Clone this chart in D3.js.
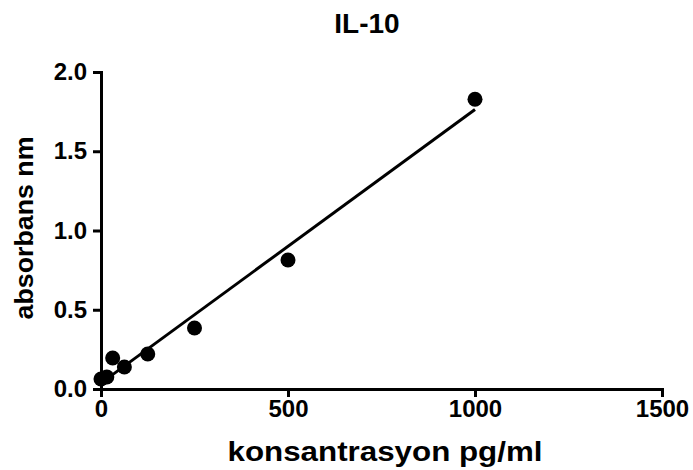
<!DOCTYPE html>
<html>
<head>
<meta charset="utf-8">
<script src="https://cdn.jsdelivr.net/npm/d3@7"></script>
<style>
  html, body { margin: 0; padding: 0; background: #fff; }
  svg { display: block; }
  text { font-family: "Liberation Sans", Arial, sans-serif; font-weight: bold; fill: #000; }
</style>
</head>
<body>
<svg id="chart" width="693" height="470"></svg>
<script>
// IL-10 standard curve: concentration (pg/ml) vs absorbance
const concentrations = [0, 15.6, 31.25, 62.5, 125, 250, 500, 1000];
const absorbances = [0.063, 0.076, 0.196, 0.139, 0.221, 0.385, 0.814, 1.828];
const xTicks = [0, 500, 1000, 1500];
const yTicks = [0.0, 0.5, 1.0, 1.5, 2.0];

const svg = d3.select("#chart");
const margin = { left: 101, right: 31, top: 72, bottom: 81 };
const W = 693, H = 470;

const x = d3.scaleLinear().domain([0, 1500]).range([margin.left, W - margin.right]);
const y = d3.scaleLinear().domain([0, 2.0]).range([H - margin.bottom, margin.top]);

// least-squares line through the standards
const n = concentrations.length;
const mx = d3.mean(concentrations), my = d3.mean(absorbances);
let sxy = 0, sxx = 0;
for (let i = 0; i < n; i++) {
  sxy += (concentrations[i] - mx) * (absorbances[i] - my);
  sxx += (concentrations[i] - mx) ** 2;
}
const slope = sxy / sxx, intercept = my - slope * mx;
const fitX = d3.extent(concentrations);

svg.append("line")
  .attr("x1", x(fitX[0])).attr("y1", y(intercept + slope * fitX[0]))
  .attr("x2", x(fitX[1])).attr("y2", y(intercept + slope * fitX[1]))
  .attr("stroke", "#000").attr("stroke-width", 3);

// axes
const xAxis = svg.append("g")
  .attr("transform", `translate(0,${y(0)})`)
  .call(d3.axisBottom(x).tickValues(xTicks).tickFormat(d3.format("d")).tickSizeOuter(0).tickSize(8).tickPadding(3));
const yAxis = svg.append("g")
  .attr("transform", `translate(${x(0)},0)`)
  .call(d3.axisLeft(y).tickValues(yTicks).tickFormat(d3.format(".1f")).tickSizeOuter(0).tickSize(8).tickPadding(6));

[xAxis, yAxis].forEach(g => {
  g.select(".domain").attr("stroke", "#000").attr("stroke-width", 3);
  g.selectAll(".tick line").attr("stroke", "#000").attr("stroke-width", 3);
  g.selectAll(".tick text").style("font-size", "24px").style("font-family", "'Liberation Sans', Arial, sans-serif").style("font-weight", "bold");
});

// data points
svg.append("g").selectAll("circle")
  .data(concentrations.map((c, i) => [c, absorbances[i]]))
  .join("circle")
  .attr("cx", d => x(d[0]))
  .attr("cy", d => y(d[1]))
  .attr("r", 7.5)
  .attr("fill", "#000");

// titles
svg.append("text")
  .attr("x", 367).attr("y", 33)
  .attr("text-anchor", "middle")
  .style("font-size", "28px")
  .text("IL-10");

svg.append("text")
  .attr("x", 385).attr("y", 461)
  .attr("text-anchor", "middle")
  .attr("textLength", 315)
  .attr("lengthAdjust", "spacingAndGlyphs")
  .style("font-size", "28px")
  .text("konsantrasyon pg/ml");

svg.append("text")
  .attr("transform", "translate(33,228) rotate(-90)")
  .attr("text-anchor", "middle")
  .attr("textLength", 183)
  .attr("lengthAdjust", "spacingAndGlyphs")
  .style("font-size", "26px")
  .text("absorbans nm");
</script>
</body>
</html>
